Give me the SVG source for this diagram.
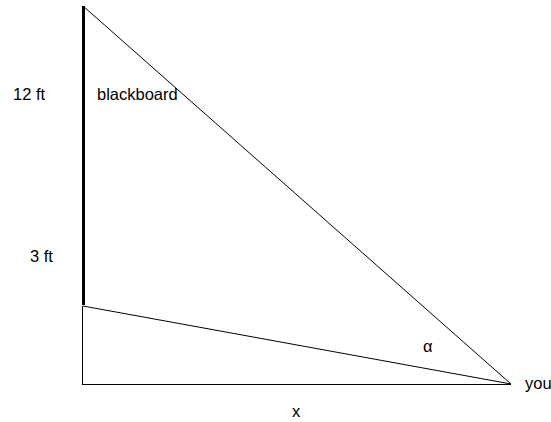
<svg xmlns="http://www.w3.org/2000/svg" width="551" height="422" viewBox="0 0 551 422">
<style>
.t{font-family:"Liberation Sans",Arial,sans-serif;font-size:16.5px;fill:#000}
.l{stroke:#000;stroke-width:1;fill:none}
</style>
<rect width="551" height="422" fill="#fff"/>
<g id="connectors">
<line class="l" x1="83" y1="6" x2="511" y2="384"/>
<line class="l" x1="83" y1="306" x2="511" y2="384"/>
<line class="l" x1="82.5" y1="306" x2="82.5" y2="384.5"/>
<line class="l" x1="82" y1="384.5" x2="511" y2="384.5"/>
</g>
<g id="blackboard">
<line x1="83.5" y1="6" x2="83.5" y2="305" stroke="#000" stroke-width="3"/>
<text class="t" x="97" y="100">blackboard</text>
</g>
<g id="labels">
<text class="t" x="13" y="100">12 ft</text>
<text class="t" x="30" y="262">3 ft</text>
<text class="t" x="423" y="352">α</text>
<text class="t" x="525" y="389">you</text>
<text class="t" x="292" y="417">x</text>
</g>
</svg>
